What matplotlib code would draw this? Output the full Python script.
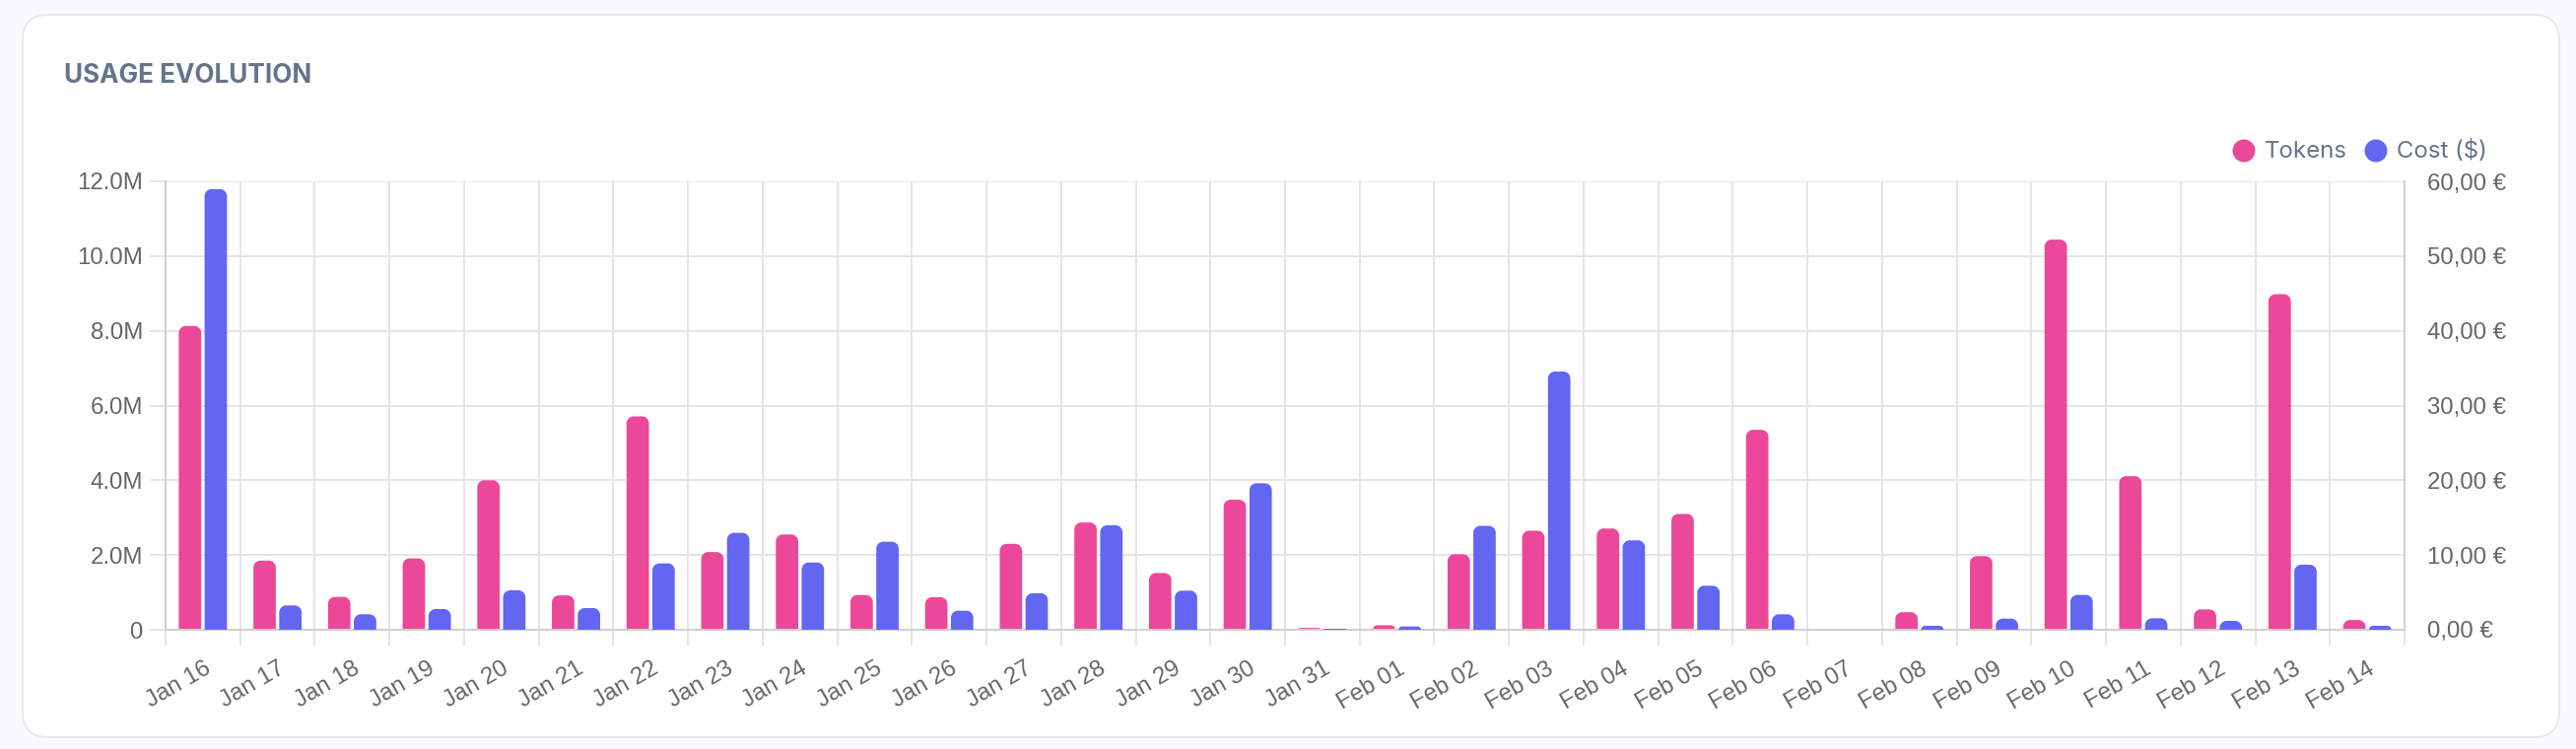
import numpy as np
import matplotlib
matplotlib.use("Agg")
import matplotlib.pyplot as plt
from matplotlib.path import Path
from matplotlib.patches import PathPatch, FancyBboxPatch, Circle
from matplotlib.transforms import IdentityTransform, ScaledTranslation
from matplotlib.ticker import FuncFormatter, MultipleLocator

# datos
dates = ['Jan 16', 'Jan 17', 'Jan 18', 'Jan 19', 'Jan 20', 'Jan 21', 'Jan 22', 'Jan 23',
         'Jan 24', 'Jan 25', 'Jan 26', 'Jan 27', 'Jan 28', 'Jan 29', 'Jan 30', 'Jan 31',
         'Feb 01', 'Feb 02', 'Feb 03', 'Feb 04', 'Feb 05', 'Feb 06', 'Feb 07', 'Feb 08',
         'Feb 09', 'Feb 10', 'Feb 11', 'Feb 12', 'Feb 13', 'Feb 14']
tokens = [8130000, 1850000, 880000, 1910000, 4000000, 920000, 5710000, 2080000,
          2550000, 930000, 870000, 2300000, 2870000, 1520000, 3480000, 50000,
          120000, 2020000, 2650000, 2710000, 3100000, 5350000, 0, 470000,
          1970000, 10440000, 4110000, 545000, 8980000, 260000]
cost = [58.95, 3.25, 2.07, 2.77, 5.27, 2.90, 8.88, 12.97,
        9.00, 11.78, 2.55, 4.88, 13.98, 5.23, 19.60, 0.13,
        0.44, 13.90, 34.55, 11.96, 5.89, 2.07, 0.0, 0.53,
        1.49, 4.66, 1.54, 1.19, 8.70, 0.53]
series_names = ['Tokens', 'Cost ($)']

PINK = '#ec4899'
BLUE = '#6366f1'
GRID = '#e5e5e5'
BORDER = '#d0d0d0'
TICK_TXT = '#666666'
SLATE = '#64748b'

W, H, DPI = 2614, 760, 100
PX = 0.72  # pt por pixel a 100 dpi

fig = plt.figure(figsize=(W / DPI, H / DPI), dpi=DPI, facecolor='#f8fafc')

# tarjeta
card = FancyBboxPatch((23, H - 748), 2574, 733, boxstyle='round,pad=0,rounding_size=26',
                      transform=IdentityTransform(), facecolor='white',
                      edgecolor='#e6e9ee', linewidth=2 * PX, zorder=-10)
fig.patches.append(card)

fig.text(65 / W, 1 - 84 / H, 'USAGE EVOLUTION', fontsize=26 * PX, fontweight='bold',
         family=['Inter', 'DejaVu Sans'], color=SLATE, va='baseline', ha='left')

# ejes
x0, x1, y0, y1 = 168, 2440, 639, 184
ax = fig.add_axes([x0 / W, 1 - y0 / H, (x1 - x0) / W, (y0 - y1) / H])
ax2 = ax.twinx()
ax.set_xlim(-0.5, len(dates) - 0.5)
ax.set_ylim(0, 12e6)
ax2.set_ylim(0, 60)

n = len(dates)
x = np.arange(n)
bw = 0.30
off = 0.173
px_x = (x1 - x0) / n


def rounded_bars(a, xs, heights, ymax, color, r_px=7):
    px_y = (y0 - y1) / ymax
    for xc, h in zip(xs, heights):
        if h <= 0:
            continue
        r = min(r_px, h * px_y, bw * px_x / 2)
        rx, ry = r / px_x, r / px_y
        l, rr = xc - bw / 2, xc + bw / 2
        k = 0.5523
        verts = [(l, 0), (l, h - ry),
                 (l, h - ry + k * ry), (l + rx - k * rx, h), (l + rx, h),
                 (rr - rx, h),
                 (rr - rx + k * rx, h), (rr, h - ry + k * ry), (rr, h - ry),
                 (rr, 0), (l, 0)]
        codes = [Path.MOVETO, Path.LINETO,
                 Path.CURVE4, Path.CURVE4, Path.CURVE4,
                 Path.LINETO,
                 Path.CURVE4, Path.CURVE4, Path.CURVE4,
                 Path.LINETO, Path.CLOSEPOLY]
        a.add_patch(PathPatch(Path(verts, codes), facecolor=color, edgecolor='none', zorder=3))


rounded_bars(ax, x - off, tokens, 12e6, PINK)
rounded_bars(ax2, x + off, cost, 60, BLUE)

# rejilla y ticks
ax.set_axisbelow(True)
ax.set_xticks(np.arange(n + 1) - 0.5)
ax.set_xticklabels([])
ax.set_xticks(x, minor=True)
ax.set_xticklabels(dates, minor=True, rotation=30, ha='right', va='center',
                   rotation_mode='anchor', fontsize=24 * PX, color=TICK_TXT,
                   family=['Liberation Sans', 'DejaVu Sans'])
ax.tick_params(axis='x', which='major', length=16 * PX, width=2 * PX, color=GRID)
ax.tick_params(axis='x', which='minor', length=0, pad=38 * PX)
for lab in ax.get_xticklabels(minor=True):
    lab.set_transform(lab.get_transform() + ScaledTranslation(6 / DPI, 0, fig.dpi_scale_trans))

ax.yaxis.set_major_locator(MultipleLocator(2e6))
ax.yaxis.set_major_formatter(FuncFormatter(lambda v, p: '0' if v == 0 else f'{v / 1e6:.1f}M'))
ax.tick_params(axis='y', length=16 * PX, width=2 * PX, color=GRID, pad=7 * PX,
               labelsize=24 * PX, labelcolor=TICK_TXT)
for lab in ax.get_yticklabels():
    lab.set_family(['Liberation Sans', 'DejaVu Sans'])

ax2.yaxis.set_major_locator(MultipleLocator(10))
ax2.yaxis.set_major_formatter(FuncFormatter(lambda v, p: f'{v:.2f}'.replace('.', ',') + ' €'))
ax2.tick_params(axis='y', length=0, pad=23 * PX, labelsize=24 * PX, labelcolor=TICK_TXT)
for lab in ax2.get_yticklabels():
    lab.set_family(['Liberation Sans', 'DejaVu Sans'])

ax.grid(True, which='major', color=GRID, linewidth=2 * PX)
for a in (ax, ax2):
    a.spines['top'].set_visible(False)
    for s in ('left', 'right', 'bottom'):
        a.spines[s].set_color(BORDER)
        a.spines[s].set_linewidth(2 * PX)

# leyenda
for cx, tx, col, name in [(2277, 2298, PINK, series_names[0]), (2411, 2432, BLUE, series_names[1])]:
    fig.patches.append(Circle((cx, H - 153), 11.5, transform=IdentityTransform(),
                              facecolor=col, edgecolor='none'))
    fig.text(tx / W, 1 - 160 / H, name, fontsize=24 * PX, color=SLATE,
             family=['Inter', 'DejaVu Sans'], va='baseline', ha='left')

fig.savefig('out.png', dpi=DPI, facecolor=fig.get_facecolor())
